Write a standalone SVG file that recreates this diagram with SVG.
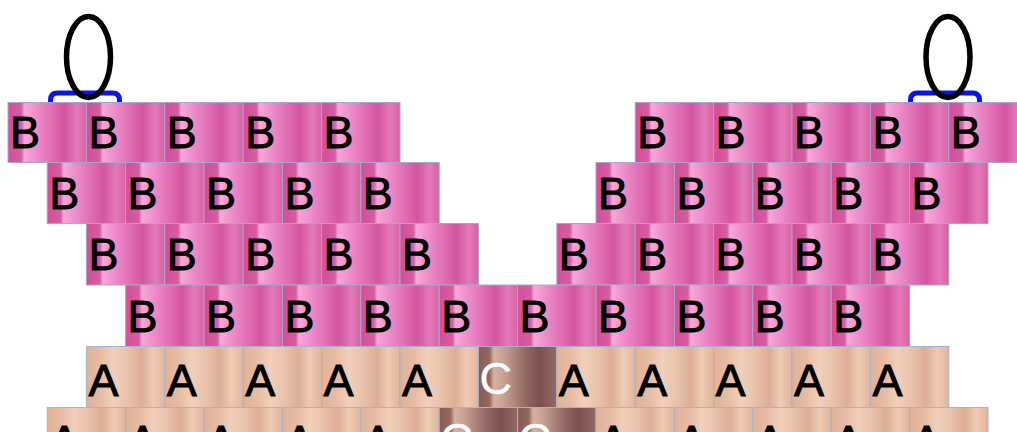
<svg xmlns="http://www.w3.org/2000/svg" width="1017" height="432" viewBox="0 0 1017 432">
<defs>
<linearGradient id="gB" x1="0" y1="0" x2="1" y2="0">
<stop offset="0" stop-color="#d14f98"/>
<stop offset="0.17" stop-color="#d85ca3"/>
<stop offset="0.21" stop-color="#f7a8d8"/>
<stop offset="0.35" stop-color="#ef8fca"/>
<stop offset="0.55" stop-color="#e06fb5"/>
<stop offset="0.72" stop-color="#d4569f"/>
<stop offset="0.88" stop-color="#e37ab9"/>
<stop offset="1" stop-color="#d9619f"/>
</linearGradient>
<linearGradient id="gA" x1="0" y1="0" x2="1" y2="0">
<stop offset="0" stop-color="#e0b298"/>
<stop offset="0.18" stop-color="#e6bca4"/>
<stop offset="0.35" stop-color="#f1cfba"/>
<stop offset="0.55" stop-color="#e8c0a8"/>
<stop offset="0.7" stop-color="#dcae95"/>
<stop offset="0.85" stop-color="#efcab4"/>
<stop offset="1" stop-color="#e2b59d"/>
</linearGradient>
<linearGradient id="gC" x1="0" y1="0" x2="1" y2="0">
<stop offset="0" stop-color="#8a5a55"/>
<stop offset="0.14" stop-color="#96665f"/>
<stop offset="0.2" stop-color="#d6b2a2"/>
<stop offset="0.35" stop-color="#c39c90"/>
<stop offset="0.6" stop-color="#946864"/>
<stop offset="0.78" stop-color="#7c504e"/>
<stop offset="1" stop-color="#946a66"/>
</linearGradient>
</defs>
<style>
.b{fill:url(#gB);stroke:#a9a6d0;stroke-width:1}
.a{fill:url(#gA);stroke:#a6b4c8;stroke-width:1}
.c{fill:url(#gC);stroke:#a6b4c8;stroke-width:1}
text{font-family:"Liberation Sans",Arial,sans-serif;font-size:45px;fill:#000;stroke:#000;stroke-width:0.9}
text.w{fill:#fff;stroke:#fff;stroke-width:0.4}
.loop{fill:none;stroke:#000;stroke-width:5.5}
.brk{fill:none;stroke:#0a14f0;stroke-width:5}
</style>
<rect width="1017" height="432" fill="#fff"/>
<g id="clasps">
<path class="brk" d="M50.5 104 V100 Q50.5 93 57.5 93 H112.5 Q119.5 93 119.5 100 V104"/>
<path class="brk" d="M910.5 104 V100 Q910.5 93 917.5 93 H972.5 Q979.5 93 979.5 100 V104"/>
<ellipse class="loop" cx="88.5" cy="57" rx="22" ry="40.5"/>
<ellipse class="loop" cx="948" cy="57" rx="22" ry="40.5"/>
</g>
<g id="row1">
<g id="r1b1"><rect class="b" x="8" y="102.5" width="78.4" height="60"/><text x="10" y="148">B</text></g>
<g id="r1b2"><rect class="b" x="86.4" y="102.5" width="78.4" height="60"/><text x="88.4" y="148">B</text></g>
<g id="r1b3"><rect class="b" x="164.8" y="102.5" width="78.4" height="60"/><text x="166.8" y="148">B</text></g>
<g id="r1b4"><rect class="b" x="243.2" y="102.5" width="78.4" height="60"/><text x="245.2" y="148">B</text></g>
<g id="r1b5"><rect class="b" x="321.6" y="102.5" width="78.4" height="60"/><text x="323.6" y="148">B</text></g>
<g id="r1b6"><rect class="b" x="635.2" y="102.5" width="78.4" height="60"/><text x="637.2" y="148">B</text></g>
<g id="r1b7"><rect class="b" x="713.6" y="102.5" width="78.4" height="60"/><text x="715.6" y="148">B</text></g>
<g id="r1b8"><rect class="b" x="792" y="102.5" width="78.4" height="60"/><text x="794" y="148">B</text></g>
<g id="r1b9"><rect class="b" x="870.4" y="102.5" width="78.4" height="60"/><text x="872.4" y="148">B</text></g>
<g id="r1b10"><rect class="b" x="948.8" y="102.5" width="78.4" height="60"/><text x="950.8" y="148">B</text></g>
</g>
<g id="row2">
<g id="r2b1"><rect class="b" x="47.2" y="162.5" width="78.4" height="61"/><text x="49.2" y="209">B</text></g>
<g id="r2b2"><rect class="b" x="125.6" y="162.5" width="78.4" height="61"/><text x="127.6" y="209">B</text></g>
<g id="r2b3"><rect class="b" x="204" y="162.5" width="78.4" height="61"/><text x="206" y="209">B</text></g>
<g id="r2b4"><rect class="b" x="282.4" y="162.5" width="78.4" height="61"/><text x="284.4" y="209">B</text></g>
<g id="r2b5"><rect class="b" x="360.8" y="162.5" width="78.4" height="61"/><text x="362.8" y="209">B</text></g>
<g id="r2b6"><rect class="b" x="596" y="162.5" width="78.4" height="61"/><text x="598" y="209">B</text></g>
<g id="r2b7"><rect class="b" x="674.4" y="162.5" width="78.4" height="61"/><text x="676.4" y="209">B</text></g>
<g id="r2b8"><rect class="b" x="752.8" y="162.5" width="78.4" height="61"/><text x="754.8" y="209">B</text></g>
<g id="r2b9"><rect class="b" x="831.2" y="162.5" width="78.4" height="61"/><text x="833.2" y="209">B</text></g>
<g id="r2b10"><rect class="b" x="909.6" y="162.5" width="78.4" height="61"/><text x="911.6" y="209">B</text></g>
</g>
<g id="row3">
<g id="r3b1"><rect class="b" x="86.4" y="223.5" width="78.4" height="61.5"/><text x="88.4" y="270">B</text></g>
<g id="r3b2"><rect class="b" x="164.8" y="223.5" width="78.4" height="61.5"/><text x="166.8" y="270">B</text></g>
<g id="r3b3"><rect class="b" x="243.2" y="223.5" width="78.4" height="61.5"/><text x="245.2" y="270">B</text></g>
<g id="r3b4"><rect class="b" x="321.6" y="223.5" width="78.4" height="61.5"/><text x="323.6" y="270">B</text></g>
<g id="r3b5"><rect class="b" x="400" y="223.5" width="78.4" height="61.5"/><text x="402" y="270">B</text></g>
<g id="r3b6"><rect class="b" x="556.8" y="223.5" width="78.4" height="61.5"/><text x="558.8" y="270">B</text></g>
<g id="r3b7"><rect class="b" x="635.2" y="223.5" width="78.4" height="61.5"/><text x="637.2" y="270">B</text></g>
<g id="r3b8"><rect class="b" x="713.6" y="223.5" width="78.4" height="61.5"/><text x="715.6" y="270">B</text></g>
<g id="r3b9"><rect class="b" x="792" y="223.5" width="78.4" height="61.5"/><text x="794" y="270">B</text></g>
<g id="r3b10"><rect class="b" x="870.4" y="223.5" width="78.4" height="61.5"/><text x="872.4" y="270">B</text></g>
</g>
<g id="row4">
<g id="r4b1"><rect class="b" x="125.6" y="285" width="78.4" height="61.5"/><text x="127.6" y="332">B</text></g>
<g id="r4b2"><rect class="b" x="204" y="285" width="78.4" height="61.5"/><text x="206" y="332">B</text></g>
<g id="r4b3"><rect class="b" x="282.4" y="285" width="78.4" height="61.5"/><text x="284.4" y="332">B</text></g>
<g id="r4b4"><rect class="b" x="360.8" y="285" width="78.4" height="61.5"/><text x="362.8" y="332">B</text></g>
<g id="r4b5"><rect class="b" x="439.2" y="285" width="78.4" height="61.5"/><text x="441.2" y="332">B</text></g>
<g id="r4b6"><rect class="b" x="517.6" y="285" width="78.4" height="61.5"/><text x="519.6" y="332">B</text></g>
<g id="r4b7"><rect class="b" x="596" y="285" width="78.4" height="61.5"/><text x="598" y="332">B</text></g>
<g id="r4b8"><rect class="b" x="674.4" y="285" width="78.4" height="61.5"/><text x="676.4" y="332">B</text></g>
<g id="r4b9"><rect class="b" x="752.8" y="285" width="78.4" height="61.5"/><text x="754.8" y="332">B</text></g>
<g id="r4b10"><rect class="b" x="831.2" y="285" width="78.4" height="61.5"/><text x="833.2" y="332">B</text></g>
</g>
<g id="row5">
<g id="r5b1"><rect class="a" x="86.4" y="346.5" width="78.4" height="61"/><text x="88.4" y="396">A</text></g>
<g id="r5b2"><rect class="a" x="164.8" y="346.5" width="78.4" height="61"/><text x="166.8" y="396">A</text></g>
<g id="r5b3"><rect class="a" x="243.2" y="346.5" width="78.4" height="61"/><text x="245.2" y="396">A</text></g>
<g id="r5b4"><rect class="a" x="321.6" y="346.5" width="78.4" height="61"/><text x="323.6" y="396">A</text></g>
<g id="r5b5"><rect class="a" x="400" y="346.5" width="78.4" height="61"/><text x="402" y="396">A</text></g>
<g id="r5b6"><rect class="c" x="478.4" y="346.5" width="78.4" height="61"/><text class="w" x="479.4" y="394">C</text></g>
<g id="r5b7"><rect class="a" x="556.8" y="346.5" width="78.4" height="61"/><text x="558.8" y="396">A</text></g>
<g id="r5b8"><rect class="a" x="635.2" y="346.5" width="78.4" height="61"/><text x="637.2" y="396">A</text></g>
<g id="r5b9"><rect class="a" x="713.6" y="346.5" width="78.4" height="61"/><text x="715.6" y="396">A</text></g>
<g id="r5b10"><rect class="a" x="792" y="346.5" width="78.4" height="61"/><text x="794" y="396">A</text></g>
<g id="r5b11"><rect class="a" x="870.4" y="346.5" width="78.4" height="61"/><text x="872.4" y="396">A</text></g>
</g>
<g id="row6">
<g id="r6b1"><rect class="a" x="47.2" y="407.5" width="78.4" height="61"/><text x="49.2" y="457">A</text></g>
<g id="r6b2"><rect class="a" x="125.6" y="407.5" width="78.4" height="61"/><text x="127.6" y="457">A</text></g>
<g id="r6b3"><rect class="a" x="204" y="407.5" width="78.4" height="61"/><text x="206" y="457">A</text></g>
<g id="r6b4"><rect class="a" x="282.4" y="407.5" width="78.4" height="61"/><text x="284.4" y="457">A</text></g>
<g id="r6b5"><rect class="a" x="360.8" y="407.5" width="78.4" height="61"/><text x="362.8" y="457">A</text></g>
<g id="r6b6"><rect class="c" x="439.2" y="407.5" width="78.4" height="61"/><text class="w" x="440.2" y="455">C</text></g>
<g id="r6b7"><rect class="c" x="517.6" y="407.5" width="78.4" height="61"/><text class="w" x="518.6" y="455">C</text></g>
<g id="r6b8"><rect class="a" x="596" y="407.5" width="78.4" height="61"/><text x="598" y="457">A</text></g>
<g id="r6b9"><rect class="a" x="674.4" y="407.5" width="78.4" height="61"/><text x="676.4" y="457">A</text></g>
<g id="r6b10"><rect class="a" x="752.8" y="407.5" width="78.4" height="61"/><text x="754.8" y="457">A</text></g>
<g id="r6b11"><rect class="a" x="831.2" y="407.5" width="78.4" height="61"/><text x="833.2" y="457">A</text></g>
<g id="r6b12"><rect class="a" x="909.6" y="407.5" width="78.4" height="61"/><text x="911.6" y="457">A</text></g>
</g>
</svg>
